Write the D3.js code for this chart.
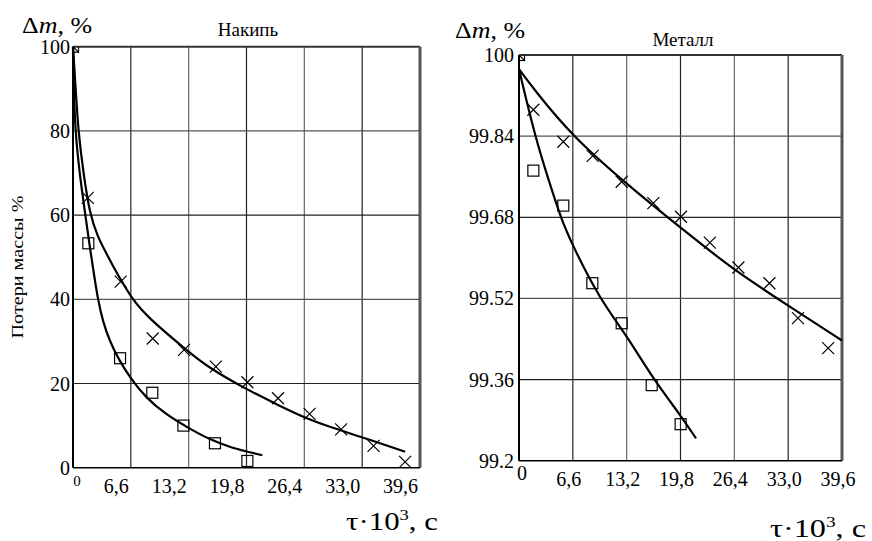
<!DOCTYPE html>
<html>
<head>
<meta charset="utf-8">
<script src="https://cdnjs.cloudflare.com/ajax/libs/d3/7.8.5/d3.min.js"></script>
<style>
  body { margin: 0; background: #fff; }
</style>
</head>
<body>
<div id="canvas"></div>
<script>
var width = 872;
var height = 541;
var FONT = 'Liberation Serif';

// --- data ---
var xTicks = [0, 6.6, 13.2, 19.8, 26.4, 33.0, 39.6];
var xTickLabels = ["0", "6,6", "13,2", "19,8", "26,4", "33,0", "39,6"];

// Накипь (scale)
var scaleYTicks = [0, 20, 40, 60, 80, 100];
var scaleCrossX = [0, 1.68, 5.44, 9.1, 12.67, 16.3, 19.9, 23.4, 27.0, 30.6, 34.3, 37.9];
var scaleCrossY = [100, 64.1, 44.2, 30.7, 28.0, 24.0, 20.3, 16.5, 12.8, 9.1, 5.2, 1.4];
var scaleSquareX = [0, 1.75, 5.37, 9.05, 12.6, 16.2, 19.9];
var scaleSquareY = [100, 53.3, 26.0, 17.8, 10.0, 5.8, 1.6];
var scaleFitUpperX = [0, 0.3, 0.6, 1.18, 1.94, 2.8, 3.65, 4.8, 5.7, 6.7, 8.4, 13.2, 15.4, 19.7, 23.6, 26.3, 29.3, 32.9, 37.9];
var scaleFitUpperY = [100, 90, 80, 70, 60, 55.0, 51.5, 47, 43.8, 40.3, 35.9, 27.5, 23.9, 18.7, 14.7, 12.0, 9.7, 7.3, 3.8];
var scaleFitLowerX = [0, 0.07, 0.25, 0.74, 1.39, 1.97, 2.37, 2.81, 3.42, 4.22, 5.25, 6.51, 8.33, 10.5, 13.1, 15.6, 17.9, 21.6];
var scaleFitLowerY = [100, 90.9, 80.2, 70.0, 60.3, 51.7, 46.3, 40.3, 34.6, 29.9, 25.6, 21.4, 16.6, 12.8, 9.5, 6.7, 4.8, 2.96];

// Металл (metal)
var metalYTicks = [99.2, 99.36, 99.52, 99.68, 99.84, 100];
var metalYTickLabels = ["99.2", "99.36", "99.52", "99.68", "99.84", "100"];
var metalCrossX = [0, 1.76, 5.43, 9.03, 12.59, 16.47, 19.86, 23.4, 26.9, 30.7, 34.2, 37.9];
var metalCrossY = [100, 99.892, 99.829, 99.801, 99.750, 99.708, 99.681, 99.630, 99.581, 99.550, 99.481, 99.422];
var metalSquareX = [0, 1.76, 5.43, 8.99, 12.59, 16.27, 19.82];
var metalSquareY = [100, 99.772, 99.703, 99.550, 99.471, 99.349, 99.272];
var metalFitUpperX = [0, 1.76, 6.5, 13.6, 19.7, 26.3, 32.9, 39.6];
var metalFitUpperY = [99.972, 99.934, 99.840, 99.740, 99.661, 99.576, 99.507, 99.437];
var metalFitLowerX = [0, 1.96, 3.6, 5.1, 6.46, 9.85, 13.2, 16.5, 19.8, 21.7];
var metalFitLowerY = [99.972, 99.84, 99.755, 99.68, 99.628, 99.52, 99.447, 99.36, 99.29, 99.244];

function zip(xs, ys) {
  return xs.map(function (x, i) { return [x, ys[i]]; });
}

var svg = d3.select('#canvas').append('svg')
  .attr('width', width)
  .attr('height', height);

var drawPanel = function (cfg) {
  var x = d3.scaleLinear().domain([0, 39.6]).range([cfg.left, cfg.right]);
  var y = d3.scaleLinear().domain(cfg.yDomain).range([cfg.bottom, cfg.top]);
  var g = svg.append('g');

  // grid
  g.selectAll('line.vgrid').data(xTicks.slice(1, -1)).enter().append('line')
    .attr('x1', function (d) { return x(d); }).attr('x2', function (d) { return x(d); })
    .attr('y1', cfg.top).attr('y2', cfg.bottom)
    .attr('stroke', function (d, i) { return i % 2 ? '#666' : '#222'; }).attr('stroke-width', 1.2);
  g.selectAll('line.hgrid').data(cfg.yTicks.slice(1, -1)).enter().append('line')
    .attr('x1', cfg.left).attr('x2', cfg.right)
    .attr('y1', function (d) { return y(d); }).attr('y2', function (d) { return y(d); })
    .attr('stroke', function (d, i) { return i % 2 ? '#555' : '#222'; }).attr('stroke-width', 1.2);

  // frame
  g.append('line').attr('x1', cfg.left).attr('x2', cfg.right).attr('y1', cfg.top).attr('y2', cfg.top)
    .attr('stroke', '#333').attr('stroke-width', 2);
  g.append('line').attr('x1', cfg.right).attr('x2', cfg.right).attr('y1', cfg.top).attr('y2', cfg.bottom)
    .attr('stroke', '#555').attr('stroke-width', 3);
  g.append('line').attr('x1', cfg.left).attr('x2', cfg.right).attr('y1', cfg.bottom).attr('y2', cfg.bottom)
    .attr('stroke', '#000').attr('stroke-width', 1.5);
  g.append('line').attr('x1', cfg.left).attr('x2', cfg.left).attr('y1', cfg.top).attr('y2', cfg.bottom)
    .attr('stroke', '#000').attr('stroke-width', 2);

  // y tick labels
  g.selectAll('text.ylab').data(cfg.yTicks).enter().append('text')
    .attr('x', cfg.left - cfg.yLabelGap)
    .attr('y', function (d) { return y(d) + 7; })
    .attr('text-anchor', 'end')
    .style('font-family', FONT).style('font-size', '20px')
    .text(function (d, i) { return cfg.yTickLabels[i]; });

  // x tick labels
  g.selectAll('text.xlab').data(xTicks.slice(1)).enter().append('text')
    .attr('x', function (d) { return x(d) + cfg.xLabelDx; })
    .attr('y', cfg.bottom + cfg.xLabelDy)
    .attr('text-anchor', cfg.xLabelAnchor)
    .style('font-family', FONT).style('font-size', '20px')
    .text(function (d, i) { return xTickLabels[i + 1]; });
  g.append('text')
    .attr('x', x(0) + cfg.zeroDx)
    .attr('y', cfg.bottom + cfg.zeroDy)
    .attr('text-anchor', 'middle')
    .style('font-family', FONT).style('font-size', cfg.zeroSize)
    .text(xTickLabels[0]);

  // fitted curves
  var line = d3.line()
    .x(function (d) { return x(d[0]); })
    .y(function (d) { return y(d[1]); })
    .curve(d3.curveBasis);
  cfg.fits.forEach(function (f) {
    g.append('path').attr('d', line(f))
      .attr('fill', 'none').attr('stroke', '#000').attr('stroke-width', 2.2);
  });

  // markers, clipped to the plot area
  var clipId = 'clip' + cfg.id;
  svg.append('clipPath').attr('id', clipId).append('rect')
    .attr('x', cfg.left).attr('y', cfg.top)
    .attr('width', cfg.right - cfg.left).attr('height', cfg.bottom - cfg.top);
  var mg = g.append('g').attr('clip-path', 'url(#' + clipId + ')');
  var s = 5.5;
  mg.selectAll('rect.sq').data(cfg.squares).enter().append('rect')
    .attr('x', function (d) { return x(d[0]) - s; })
    .attr('y', function (d) { return y(d[1]) - s; })
    .attr('width', 2 * s).attr('height', 2 * s)
    .attr('fill', 'none').attr('stroke', '#000').attr('stroke-width', 1.2);
  var c = 6;
  mg.selectAll('path.cr').data(cfg.crosses).enter().append('path')
    .attr('d', function (d) {
      var px = x(d[0]), py = y(d[1]);
      return 'M' + (px - c) + ',' + (py - c) + 'L' + (px + c) + ',' + (py + c) +
             'M' + (px - c) + ',' + (py + c) + 'L' + (px + c) + ',' + (py - c);
    })
    .attr('fill', 'none').attr('stroke', '#000').attr('stroke-width', 1.2);

  // titles
  g.append('text').attr('x', cfg.titleX).attr('y', cfg.titleY)
    .attr('text-anchor', 'middle')
    .style('font-family', FONT).style('font-size', '19px').text(cfg.title);

  var dm = g.append('text').attr('x', cfg.dmX).attr('y', cfg.dmY)
    .style('font-family', FONT).style('font-size', '24px')
    .attr('textLength', 70).attr('lengthAdjust', 'spacingAndGlyphs');
  dm.append('tspan').text('\u0394');
  dm.append('tspan').style('font-style', 'italic').text('m');
  dm.append('tspan').text(', %');

  var tl = g.append('text').attr('x', cfg.tauX).attr('y', cfg.tauY)
    .style('font-family', FONT).style('font-size', '25px')
    .attr('textLength', cfg.tauW).attr('lengthAdjust', 'spacingAndGlyphs');
  tl.append('tspan').text('\u03c4\u00b710');
  tl.append('tspan').attr('dy', -10).style('font-size', '15px').text('3');
  tl.append('tspan').attr('dy', 10).text(', \u0441');
};

drawPanel({
  id: 'L', left: 73, right: 420, top: 46.7, bottom: 467.7,
  yDomain: [0, 100], yTicks: scaleYTicks,
  yTickLabels: scaleYTicks.map(String), yLabelGap: 3,
  xLabelDx: -2, xLabelDy: 25, xLabelAnchor: 'end',
  zeroDx: 4, zeroDy: 18, zeroSize: '15px',
  fits: [zip(scaleFitUpperX, scaleFitUpperY), zip(scaleFitLowerX, scaleFitLowerY)],
  crosses: zip(scaleCrossX, scaleCrossY), squares: zip(scaleSquareX, scaleSquareY),
  title: 'Накипь', titleX: 248, titleY: 36,
  dmX: 22, dmY: 33, tauX: 346, tauY: 530, tauW: 92
});

drawPanel({
  id: 'R', left: 519, right: 842, top: 55, bottom: 460.7,
  yDomain: [99.2, 100], yTicks: metalYTicks,
  yTickLabels: metalYTickLabels, yLabelGap: 5,
  xLabelDx: -4, xLabelDy: 25, xLabelAnchor: 'middle',
  zeroDx: 3, zeroDy: 19, zeroSize: '20px',
  fits: [zip(metalFitUpperX, metalFitUpperY), zip(metalFitLowerX, metalFitLowerY)],
  crosses: zip(metalCrossX, metalCrossY), squares: zip(metalSquareX, metalSquareY),
  title: 'Металл', titleX: 683, titleY: 46,
  dmX: 455, dmY: 38, tauX: 770, tauY: 537, tauW: 96
});

// rotated side label
svg.append('text')
  .attr('transform', 'translate(23,267) rotate(-90)')
  .attr('text-anchor', 'middle')
  .style('font-family', FONT).style('font-size', '16px')
  .attr('textLength', 143).attr('lengthAdjust', 'spacingAndGlyphs')
  .text('Потери массы %');
</script>
</body>
</html>
